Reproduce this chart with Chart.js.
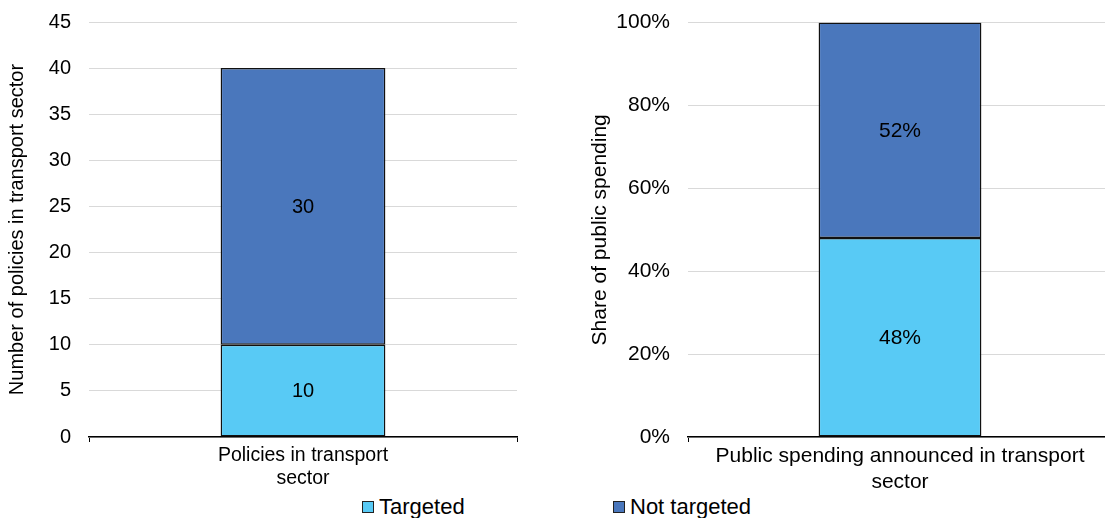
<!DOCTYPE html>
<html lang="en">
<head>
    <meta charset="UTF-8">
    <title>Transport sector policies and spending</title>
    <script src="https://cdn.jsdelivr.net/npm/chart.js"></script>
    <style>
        body {
            margin: 0;
            width: 1105px;
            height: 518px;
            background: #fff;
            font-family: "Liberation Sans", Arial, sans-serif;
            overflow: hidden;
            position: relative;
        }
        .box {
            position: absolute;
            top: -8px;
            height: 498px;
        }
        #boxLeft { left: 0; width: 530px; }
        #boxRight { left: 560px; width: 552px; }
        .legend {
            position: absolute;
            top: 494px;
            font-size: 22px;
            color: #000;
            display: flex;
            align-items: center;
        }
        .legend span.sw {
            display: inline-block;
            width: 10px;
            height: 10px;
            border: 1px solid #222;
            margin-right: 5px;
        }
    </style>
</head>
<body>
    <div class="box" id="boxLeft"><canvas id="leftChart"></canvas></div>
    <div class="box" id="boxRight"><canvas id="rightChart"></canvas></div>
    <div class="legend" style="left:362px"><span class="sw" id="swTargeted"></span>Targeted</div>
    <div class="legend" style="left:613px"><span class="sw" id="swNot"></span>Not targeted</div>

    <script>
        // data
        const seriesNames = ['Targeted', 'Not targeted'];
        const leftCategories = [['Policies in transport', 'sector']];
        const leftTargeted = [10];
        const leftNotTargeted = [30];
        const rightCategories = [['Public spending announced in transport', 'sector']];
        const rightTargeted = [48];
        const rightNotTargeted = [52];
        const leftTicks = [0, 5, 10, 15, 20, 25, 30, 35, 40, 45];
        const rightTicks = [0, 20, 40, 60, 80, 100];

        const lightBlue = '#58CAF5';
        const darkBlue = '#4A77BC';
        document.getElementById('swTargeted').style.background = lightBlue;
        document.getElementById('swNot').style.background = darkBlue;

        const family = '"Liberation Sans", Arial, sans-serif';

        // writes the value in the middle of each bar segment
        const segmentLabels = {
            id: 'segmentLabels',
            afterDatasetsDraw(chart) {
                const ctx = chart.ctx;
                const o = chart.options.plugins.segmentLabels;
                ctx.save();
                ctx.font = o.size + 'px ' + family;
                ctx.fillStyle = '#000';
                ctx.textAlign = 'center';
                ctx.textBaseline = 'middle';
                chart.data.datasets.forEach((ds, i) => {
                    chart.getDatasetMeta(i).data.forEach((bar, j) => {
                        const mid = (bar.y + bar.base) / 2;
                        ctx.fillText(ds.data[j] + o.suffix, bar.x, mid + 1);
                    });
                });
                ctx.restore();
            }
        };

        function makeChart(id, labels, tgt, notTgt, ticks, opts) {
            const tickFont = { family: family, size: opts.tickSize };
            return new Chart(document.getElementById(id), {
                type: 'bar',
                data: {
                    labels: labels,
                    datasets: [
                        { label: seriesNames[0], data: tgt, backgroundColor: lightBlue, borderColor: '#111', borderWidth: 1.5, borderSkipped: false },
                        { label: seriesNames[1], data: notTgt, backgroundColor: darkBlue, borderColor: '#111', borderWidth: 1.5, borderSkipped: false }
                    ]
                },
                options: {
                    responsive: true,
                    maintainAspectRatio: false,
                    animation: false,
                    layout: { padding: { left: opts.padL, right: opts.padR, top: 0, bottom: 0 } },
                    datasets: { bar: { categoryPercentage: 1, barPercentage: opts.barPct } },
                    plugins: {
                        legend: { display: false },
                        tooltip: { enabled: false },
                        segmentLabels: { suffix: opts.suffix, size: opts.tickSize }
                    },
                    scales: {
                        x: {
                            stacked: true,
                            offset: true,
                            grid: { display: true, offset: true, drawOnChartArea: false, tickLength: 5, color: '#000', lineWidth: 1 },
                            border: { display: true, color: '#000', width: 1.5 },
                            ticks: { color: '#000', font: { family: family, size: opts.catSize }, padding: 2, maxRotation: 0 },
                            afterFit(scale) { scale.height = 53; }
                        },
                        y: {
                            stacked: true,
                            min: ticks[0],
                            max: ticks[ticks.length - 1],
                            afterBuildTicks(scale) { scale.ticks = ticks.map(v => ({ value: v })); },
                            grid: { color: '#D9D9D9', lineWidth: 1, drawTicks: false },
                            border: { display: false },
                            ticks: {
                                color: '#000', font: tickFont, padding: 18,
                                callback: v => v + opts.suffix
                            },
                            title: { display: true, text: opts.title, color: '#000', font: tickFont, padding: { top: 4, bottom: 4 } },
                            afterFit(scale) { scale.width = opts.scaleW; }
                        }
                    }
                },
                plugins: [segmentLabels]
            });
        }

        makeChart('leftChart', leftCategories, leftTargeted, leftNotTargeted, leftTicks,
            { padL: 1, padR: 13, scaleW: 88, barPct: 0.385, suffix: '', tickSize: 20, catSize: 19.5,
              title: 'Number of policies in transport sector' });
        makeChart('rightChart', rightCategories, rightTargeted, rightNotTargeted, rightTicks,
            { padL: 24, padR: 0, scaleW: 104, barPct: 0.384, suffix: '%', tickSize: 21, catSize: 21,
              title: 'Share of public spending' });
    </script>
</body>
</html>
